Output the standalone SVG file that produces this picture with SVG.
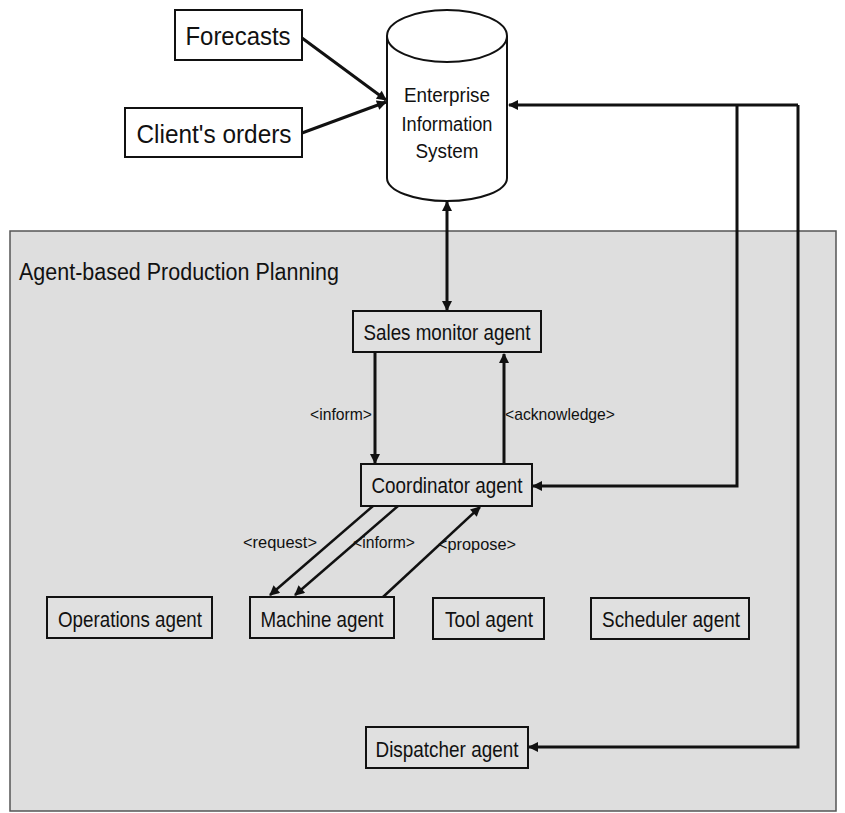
<svg xmlns="http://www.w3.org/2000/svg" width="845" height="813" viewBox="0 0 845 813">
<defs>
<style>
.box{fill:#e0e0e0;stroke:#111;stroke-width:2}
.wbox{fill:#fff;stroke:#111;stroke-width:2}
.t{font-family:"Liberation Sans",Arial,sans-serif;fill:#111;text-anchor:middle}
.lbl{font-family:"Liberation Sans",Arial,sans-serif;fill:#111;font-size:17px}
.c{fill:none;stroke:#111;stroke-width:3}
.d{fill:none;stroke:#111;stroke-width:2.5}
</style>
<marker id="ah" viewBox="0 0 10 10" refX="9" refY="5" markerWidth="11" markerHeight="10" markerUnits="userSpaceOnUse" orient="auto-start-reverse">
<path d="M0,0 L10,5 L0,10 Z" fill="#111"/>
</marker>
</defs>
<rect width="845" height="813" fill="#fff"/>
<g id="panel">
<rect x="10" y="231" width="826" height="580" fill="#dedede" stroke="#555" stroke-width="1.5"/>
<text class="t" x="19" y="280" style="text-anchor:start;font-size:23px" textLength="320" lengthAdjust="spacingAndGlyphs">Agent-based Production Planning</text>
</g>
<g id="forecasts">
<rect class="wbox" x="175" y="10" width="127" height="50"/>
<text class="t" x="238" y="45" font-size="25" textLength="105" lengthAdjust="spacingAndGlyphs">Forecasts</text>
</g>
<g id="clients-orders">
<rect class="wbox" x="125" y="108" width="177" height="49"/>
<text class="t" x="214" y="143" font-size="25" textLength="155" lengthAdjust="spacingAndGlyphs">Client's orders</text>
</g>
<g id="eis">
<path d="M387,36 L387,178 A60,23 0 0 0 507,178 L507,36" fill="#fff" stroke="#111" stroke-width="2"/>
<ellipse cx="447" cy="36" rx="60" ry="26" fill="#fff" stroke="#111" stroke-width="2"/>
<text class="t" x="447" y="102" font-size="19.5" textLength="86" lengthAdjust="spacingAndGlyphs">Enterprise</text>
<text class="t" x="447" y="131" font-size="19.5" textLength="91" lengthAdjust="spacingAndGlyphs">Information</text>
<text class="t" x="447" y="158" font-size="19.5" textLength="63" lengthAdjust="spacingAndGlyphs">System</text>
</g>
<g id="sales-monitor">
<rect class="box" x="353" y="311" width="188" height="41"/>
<text class="t" x="447" y="340" font-size="22.5" textLength="167" lengthAdjust="spacingAndGlyphs">Sales monitor agent</text>
</g>
<g id="coordinator">
<rect class="box" x="361" y="464" width="171" height="42"/>
<text class="t" x="447" y="493" font-size="22.5" textLength="151" lengthAdjust="spacingAndGlyphs">Coordinator agent</text>
</g>
<g id="operations">
<rect class="box" x="47" y="597" width="165" height="41"/>
<text class="t" x="130" y="627" font-size="22.5" textLength="144" lengthAdjust="spacingAndGlyphs">Operations agent</text>
</g>
<g id="machine">
<rect class="box" x="250" y="597" width="144" height="41"/>
<text class="t" x="322" y="627" font-size="22.5" textLength="123" lengthAdjust="spacingAndGlyphs">Machine agent</text>
</g>
<g id="tool">
<rect class="box" x="433" y="598" width="111" height="41"/>
<text class="t" x="489" y="627" font-size="22.5" textLength="88" lengthAdjust="spacingAndGlyphs">Tool agent</text>
</g>
<g id="scheduler">
<rect class="box" x="591" y="598" width="158" height="41"/>
<text class="t" x="671" y="627" font-size="22.5" textLength="138" lengthAdjust="spacingAndGlyphs">Scheduler agent</text>
</g>
<g id="dispatcher">
<rect class="box" x="366" y="727" width="162" height="41"/>
<text class="t" x="447" y="757" font-size="22.5" textLength="143" lengthAdjust="spacingAndGlyphs">Dispatcher agent</text>
</g>
<g id="connectors">
<line class="c" x1="302" y1="38" x2="386" y2="100" marker-end="url(#ah)"/>
<line class="c" x1="302" y1="133" x2="386" y2="102" marker-end="url(#ah)"/>
<line class="c" x1="447" y1="202" x2="447" y2="310" marker-start="url(#ah)" marker-end="url(#ah)"/>
<line class="c" x1="375" y1="353" x2="375" y2="463" marker-end="url(#ah)"/>
<line class="c" x1="504" y1="464" x2="504" y2="354" marker-end="url(#ah)"/>
<path class="c" d="M798,105 L509,105" marker-end="url(#ah)"/>
<path class="c" d="M737,105 L737,486 L533,486" marker-end="url(#ah)"/>
<path class="c" d="M798,105 L798,747 L529,747" marker-end="url(#ah)"/>
<line class="d" x1="373" y1="506" x2="270" y2="595" marker-end="url(#ah)"/>
<line class="d" x1="398" y1="506" x2="295" y2="595" marker-end="url(#ah)"/>
<line class="d" x1="383" y1="597" x2="480" y2="507" marker-end="url(#ah)"/>
<text class="lbl" x="310" y="420" textLength="62" lengthAdjust="spacingAndGlyphs">&lt;inform&gt;</text>
<text class="lbl" x="505" y="420" textLength="110" lengthAdjust="spacingAndGlyphs">&lt;acknowledge&gt;</text>
<text class="lbl" x="243" y="548" textLength="74" lengthAdjust="spacingAndGlyphs">&lt;request&gt;</text>
<text class="lbl" x="353" y="548" textLength="62" lengthAdjust="spacingAndGlyphs">&lt;inform&gt;</text>
<text class="lbl" x="438" y="550" textLength="78" lengthAdjust="spacingAndGlyphs">&lt;propose&gt;</text>
</g>
</svg>
